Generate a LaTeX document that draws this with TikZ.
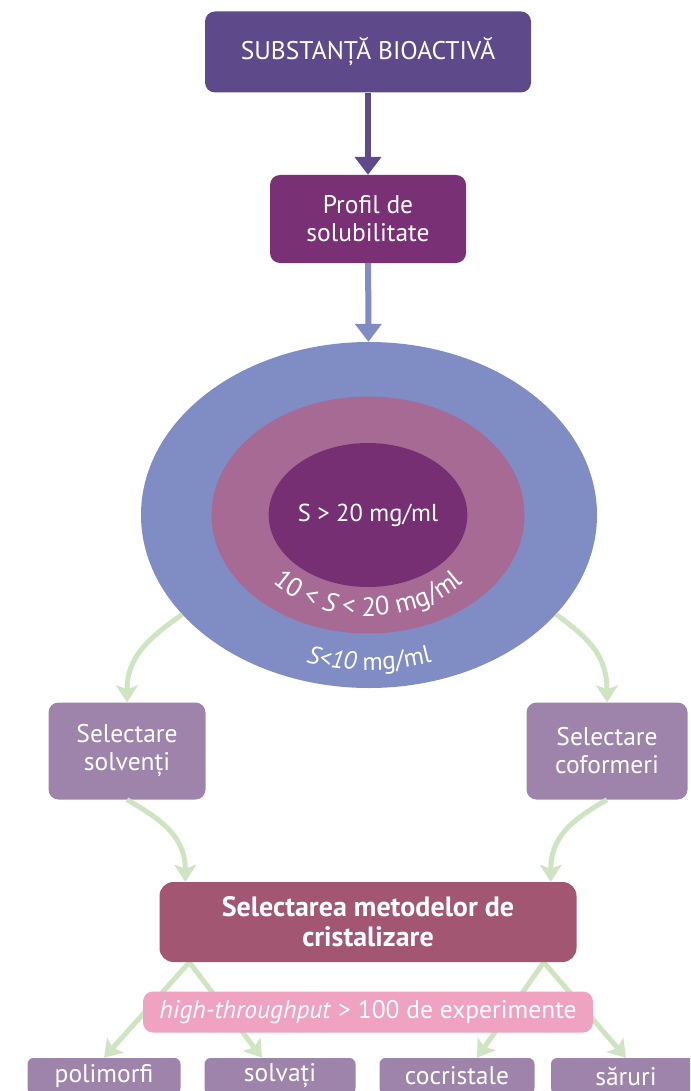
\documentclass[tikz,border=0pt]{standalone}
\usepackage{fontspec}
\setmainfont{PT Sans}
\usetikzlibrary{shapes.geometric,arrows.meta,decorations.text,backgrounds,calc}

\definecolor{subst}{RGB}{94,74,139}
\definecolor{profil}{RGB}{122,48,116}
\definecolor{peri}{RGB}{128,140,196}
\definecolor{roz}{RGB}{167,106,148}
\definecolor{mov}{RGB}{118,47,114}
\definecolor{verde}{RGB}{207,228,193}
\definecolor{gri}{RGB}{158,132,170}
\definecolor{cris}{RGB}{162,86,114}
\definecolor{pink}{RGB}{239,163,193}

\newcommand\ringtxt{\color{white}\fontsize{26.5}{28}\selectfont}
\newcommand\outtxt{\color{white}\fontsize{25}{28}\selectfont}

\begin{document}
\begin{tikzpicture}[x=1pt,y=-1pt]
          \path[use as bounding box,clip] (0,0) rectangle (690,1091);
          \tikzstyle{box} = [rounded corners=10pt, text=white, align=center, inner sep=0pt, font=\fontsize{25.5}{28}\selectfont]
          \tikzstyle{ring} = [ellipse, inner sep=0pt]
          \tikzstyle{grn} = [line width=5pt, verde, -{Stealth[length=17pt,width=22pt,inset=4pt]}]
          % top of the chart
          \node[box, fill=subst, minimum width=326pt, minimum height=81pt, font=\fontsize{25.5}{28}\selectfont](sub) at (368,52) {SUBSTANȚĂ BIOACTIVĂ};
          \node[box, fill=profil, minimum width=196pt, minimum height=88pt](prof) at (368,219) {Profil de\\solubilitate};
          % the three rings
          \node[ring, fill=peri, minimum width=456pt, minimum height=346pt](out) at (369,515) {};
          \node[ring, fill=roz, minimum width=313pt, minimum height=237pt](mid) at (368,515) {};
          \node[ring, fill=mov, minimum width=190pt, minimum height=144pt, text=white, font=\fontsize{24.5}{28}\selectfont](inn) at (368,515) {S > 20 mg/ml};
          \path[decorate, decoration={text along path, text align=center,
            text={|\ringtxt|10 < |\ringtxt\itshape|S|\ringtxt| < 20 mg/ml}}]
            (inn.center) ++(170:128 and 101) arc[start angle=170, end angle=10, x radius=128, y radius=101];
          \path[decorate, decoration={text along path, text align=center,
            text={|\outtxt\itshape|S<10|\outtxt| mg/ml}}]
            (out.center) ++(150:200 and 155) arc[start angle=150, end angle=30, x radius=200, y radius=155];
          % selection boxes
          \node[box, fill=gri, minimum width=157pt, minimum height=97pt](solv) at (127,751) {Selectare\\solvenți};
          \node[box, fill=gri, minimum width=161pt, minimum height=97pt](cof) at (607,751) {Selectare\\coformeri};
          \node[box, fill=cris, rounded corners=14pt, minimum width=417pt, minimum height=80pt, font=\fontsize{28}{30}\selectfont\bfseries](sel) at (368,922) {Selectarea metodelor de\\cristalizare};
          \node[box, fill=pink, minimum width=450pt, minimum height=41pt, font=\fontsize{25.5}{28}\selectfont](ht) at (368,1012) {\textit{high-throughput} > 100 de experimente};
          % results
          \node[box, fill=gri, rounded corners=6pt, minimum width=153pt, minimum height=36pt](pol) at (104,1076) {polimorfi};
          \node[box, fill=gri, rounded corners=6pt, minimum width=151pt, minimum height=36pt](svt) at (280,1076) {solvați};
          \node[box, fill=gri, rounded corners=6pt, minimum width=155pt, minimum height=36pt](coc) at (457,1076) {cocristale};
          \node[box, fill=gri, rounded corners=6pt, minimum width=150pt, minimum height=36pt](sar) at (626,1076) {săruri};
          \coordinate (l) at ($(sel.south west)+(30,0)$);
          \coordinate (r) at ($(sel.south east)+(-33,0)$);
          \coordinate (inl) at ($(sel.north west)+(26,0)$);
          \coordinate (inr) at ($(sel.north east)+(-26,0)$);
          % arrows
          \draw[line width=6pt, subst, -{Triangle[length=18pt,width=26pt]}] (sub) -- (prof);
          \draw[line width=6pt, peri, -{Triangle[length=18pt,width=26pt]}] (prof) -- (out);
          \draw[grn] (out.208) .. controls +(-35,25) and +(0,-45) .. (solv.north);
          \draw[grn] (out.-28) .. controls +(35,25) and +(0,-45) .. (cof.north);
          \draw[grn] (solv.south) .. controls +(35,20) and +(0,-45) .. (inl);
          \draw[grn] (cof.south) .. controls +(-35,20) and +(0,-45) .. (inr);
          \begin{scope}[on background layer]
          \draw[grn] (l) -- (pol.north);
          \draw[grn] (l) -- ($(svt.north)+(-18,0)$);
          \draw[grn] (r) -- ($(coc.north)+(20,0)$);
          \draw[grn] (r) -- (sar.north);
          \end{scope}
\end{tikzpicture}
\end{document}
